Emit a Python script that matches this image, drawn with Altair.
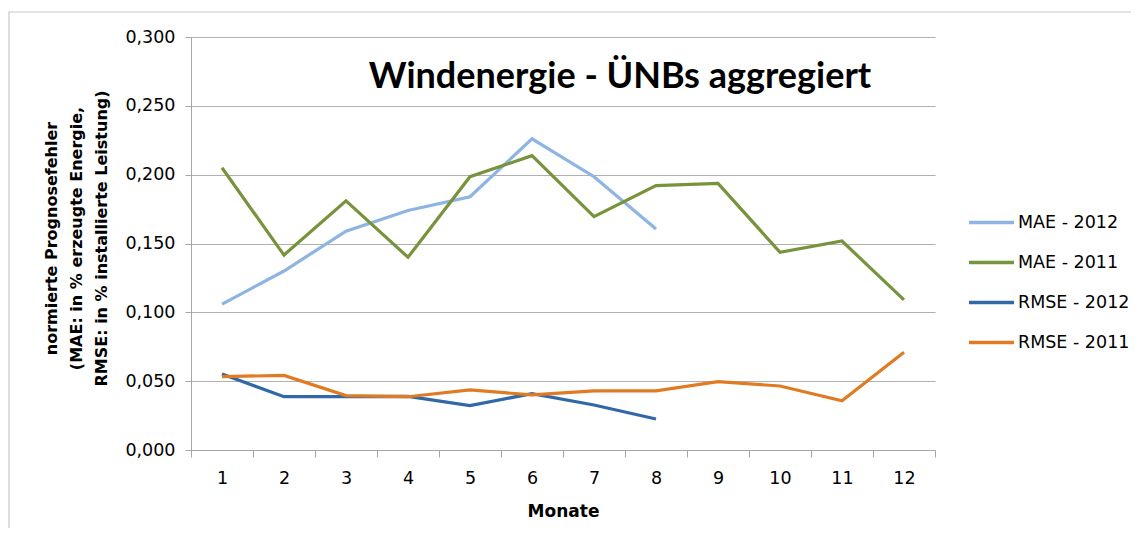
import altair as alt
import pandas as pd

months = list(range(1, 13))
series_names = ["MAE - 2012", "MAE - 2011", "RMSE - 2012", "RMSE - 2011"]
colors = ["#8DB4E2", "#77933C", "#3068A8", "#E07B24"]

mae_2012 = [0.106, 0.130, 0.159, 0.174, 0.184, 0.226, 0.1985, 0.1605]
mae_2011 = [0.205, 0.1416, 0.181, 0.140, 0.1985, 0.2138, 0.1695, 0.192, 0.1937, 0.1436, 0.1518, 0.109]
rmse_2012 = [0.0552, 0.0387, 0.0387, 0.039, 0.0322, 0.041, 0.0327, 0.0225]
rmse_2011 = [0.0533, 0.0542, 0.0395, 0.0387, 0.0436, 0.040, 0.0429, 0.0429, 0.0496, 0.0465, 0.0358, 0.071]

y_ticks = [0.0, 0.05, 0.10, 0.15, 0.20, 0.25, 0.30]
title_text = "Windenergie - ÜNBs aggregiert"
y_title = ["normierte Prognosefehler", "(MAE: in % erzeugte Energie,", "RMSE: in % installierte Leistung)"]
x_title = "Monate"

rows = []
for name, vals in zip(series_names, [mae_2012, mae_2011, rmse_2012, rmse_2011]):
    for m, v in zip(months, vals):
        rows.append({"Monat": m, "Wert": v, "Serie": name})
df = pd.DataFrame(rows)

W, H = 744, 413
LABEL_FONT = "DejaVu Sans"

lines = alt.Chart(df).mark_line(strokeWidth=3.2, clip=False).encode(
    x=alt.X("Monat:O",
            scale=alt.Scale(type="band", domain=months, paddingInner=0, paddingOuter=0),
            axis=alt.Axis(title=x_title, labelAngle=0, tickBand="extent", grid=False,
                          labelFont=LABEL_FONT, labelFontSize=17.5, labelColor="#000000",
                          labelPadding=12, tickSize=7, tickColor="#a6a6a6", domainColor="#a6a6a6",
                          titleFont=LABEL_FONT, titleFontSize=17, titleFontWeight="bold",
                          titleColor="#000000", titlePadding=17)),
    y=alt.Y("Wert:Q",
            scale=alt.Scale(domain=[0, 0.3], nice=False, zero=True),
            axis=alt.Axis(title=y_title, values=y_ticks,
                          labelExpr="replace(format(datum.value, '.3f'), '.', ',')",
                          labelFont=LABEL_FONT, labelFontSize=17.5, labelColor="#000000",
                          labelPadding=10, tickSize=6, tickColor="#a6a6a6", domainColor="#a6a6a6",
                          gridColor="#b0b0b0", gridWidth=1.2,
                          titleFont=LABEL_FONT, titleFontSize=16, titleFontWeight="bold",
                          titleColor="#000000", titlePadding=15, titleLineHeight=25,
                          titleY=201)),
    color=alt.Color("Serie:N",
                    scale=alt.Scale(domain=series_names, range=colors),
                    legend=alt.Legend(title=None, orient="none", legendX=776, legendY=161,
                                      symbolType="stroke", symbolSize=2025, symbolStrokeWidth=3.5,
                                      labelFont=LABEL_FONT, labelFontSize=17.5, labelColor="#000000",
                                      rowPadding=7, labelOffset=2)),
    detail="Serie:N",
)

title_df = pd.DataFrame({"t": [title_text]})
title_mark = alt.Chart(title_df).mark_text(
    font="Lato", fontSize=36, fontWeight="bold", color="#000000",
    align="center", baseline="alphabetic"
).encode(text="t:N", x=alt.value(429), y=alt.value(51))

border_df = pd.DataFrame({"b": [1]})
border = alt.Chart(border_df).mark_rect(fill=None, stroke="#c8c8c8", strokeWidth=1.2, clip=False).encode(
    x=alt.value(-182), x2=alt.value(W + 260), y=alt.value(-25), y2=alt.value(H + 150)
)

chart = alt.layer(border, lines, title_mark).properties(
    width=W, height=H,
    autosize=alt.AutoSizeParams(type="none"),
    padding={"left": 183, "top": 29, "right": 196, "bottom": 78},
    background="#ffffff",
).configure_view(stroke=None)

chart.save("out.html", embed_options={"renderer": "svg", "actions": False})
